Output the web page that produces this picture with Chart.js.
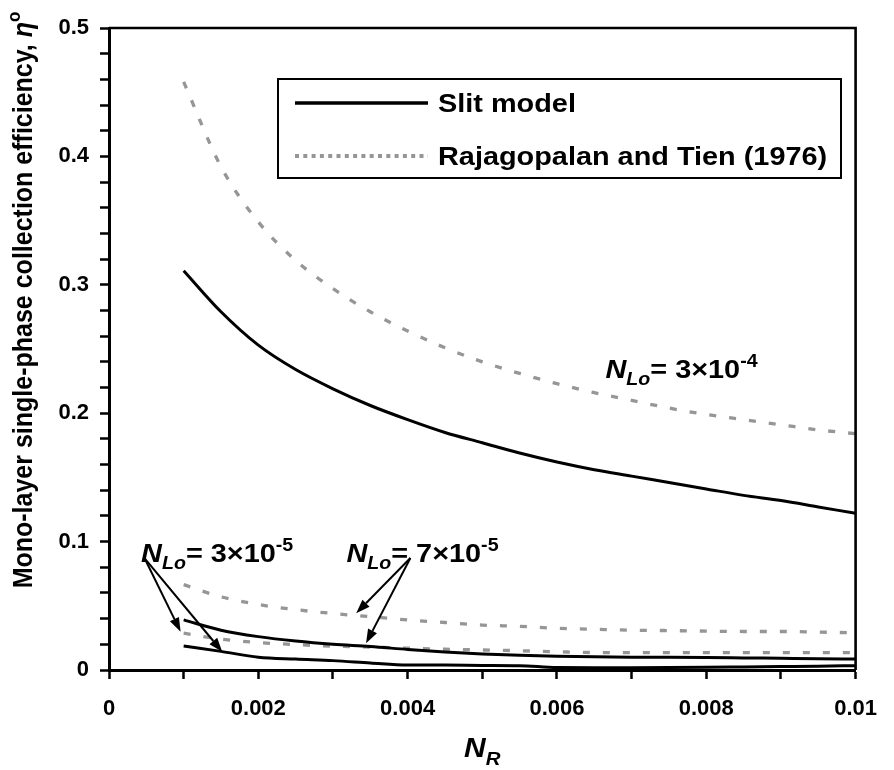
<!DOCTYPE html>
<html>
<head>
<meta charset="utf-8">
<title>Mono-layer collection efficiency</title>
<script src="https://cdn.jsdelivr.net/npm/chart.js@4.4.1/dist/chart.umd.min.js"></script>
<style>
  html, body { margin: 0; padding: 0; background: #fff; }
  #wrap { width: 894px; height: 770px; }
</style>
</head>
<body>
<div id="wrap"><canvas id="etaChart" width="894" height="770"></canvas></div>
<script>
// N_R values shared by every curve
const nR = [0.001, 0.0015, 0.002, 0.0025, 0.003, 0.0035, 0.004, 0.0045, 0.005, 0.0055,
            0.006, 0.0065, 0.007, 0.0075, 0.008, 0.0085, 0.009, 0.0095, 0.01];

// N_Lo = 3e-4
const slit3e4 = [0.311, 0.279, 0.253, 0.234, 0.219, 0.206, 0.195, 0.185, 0.177, 0.169,
                 0.162, 0.156, 0.151, 0.146, 0.141, 0.136, 0.132, 0.127, 0.122];
const rt3e4 = [0.458, 0.392, 0.349, 0.319, 0.297, 0.279, 0.264, 0.251, 0.240, 0.231,
               0.223, 0.216, 0.210, 0.204, 0.199, 0.195, 0.191, 0.187, 0.184];

// N_Lo = 7e-5
const slit7e5 = [0.039, 0.031, 0.026, 0.0225, 0.020, 0.0183, 0.016, 0.014, 0.0125, 0.0115,
                 0.0108, 0.0103, 0.0100, 0.0099, 0.0097, 0.0094, 0.0091, 0.0088, 0.0086];
const rt7e5 = [0.0665, 0.057, 0.051, 0.047, 0.044, 0.0415, 0.039, 0.037, 0.035, 0.034,
               0.0325, 0.0317, 0.031, 0.0307, 0.0303, 0.030, 0.030, 0.0295, 0.029];

// N_Lo = 3e-5
const slit3e5 = [0.0187, 0.0145, 0.0100, 0.0085, 0.0073, 0.0055, 0.0039, 0.0038, 0.0036, 0.0034,
                 0.0019, 0.0018, 0.0018, 0.0019, 0.0021, 0.0024, 0.0027, 0.0030, 0.0034];
const rt3e5 = [0.0287, 0.024, 0.0214, 0.0198, 0.0186, 0.0178, 0.017, 0.0162, 0.0156, 0.015,
               0.0142, 0.0136, 0.0135, 0.0135, 0.0135, 0.0135, 0.0135, 0.0135, 0.0135];

const legendLabels = ['Slit model', 'Rajagopalan and Tien (1976)'];

const FAMILY = '"Liberation Sans", Arial, sans-serif';
const GREY = '#969696';
const WIDEN = 1.11; // text in this figure runs a little wide

function font(size, italic) {
    return (italic ? 'italic ' : '') + 'bold ' + size + 'px ' + FAMILY;
}

function toPoints(ys) {
    return nR.map((x, i) => ({ x: x, y: ys[i] }));
}

function slitSet(ys) {
    return {
        label: legendLabels[0],
        data: toPoints(ys),
        borderColor: '#000',
        borderWidth: 3,
        pointRadius: 0,
        cubicInterpolationMode: 'monotone',
        fill: false
    };
}

function rtSet(ys) {
    return {
        label: legendLabels[1],
        data: toPoints(ys),
        borderColor: GREY,
        borderWidth: 3.3,
        borderDash: [7, 13],
        pointRadius: 0,
        cubicInterpolationMode: 'monotone',
        fill: false
    };
}

// text made of pieces: plain, italic, subscript, superscript
function richWidth(ctx, parts, size) {
    let w = 0;
    parts.forEach(p => {
        const s = p.shift ? size * 0.68 : size;
        ctx.font = font(s, p.italic);
        w += ctx.measureText(p.t).width;
    });
    return w;
}

function drawRich(ctx, parts, x, y, size, align, k) {
    k = k || 1;
    let start = x;
    if (align === 'center') start -= richWidth(ctx, parts, size) * k / 2;
    ctx.save();
    ctx.translate(start, y);
    ctx.scale(k, 1);
    ctx.textBaseline = 'alphabetic';
    ctx.textAlign = 'left';
    let cx = 0;
    parts.forEach(p => {
        const s = p.shift ? size * 0.68 : size;
        let dy = 0;
        if (p.shift === 'sub') dy = size * 0.28;
        if (p.shift === 'sup') dy = -size * 0.42;
        ctx.font = font(s, p.italic);
        ctx.fillText(p.t, cx, dy);
        cx += ctx.measureText(p.t).width;
    });
    ctx.restore();
}

function arrow(ctx, x0, y0, x1, y1) {
    const ang = Math.atan2(y1 - y0, x1 - x0);
    const len = 14, half = 5;
    const bx = x1 - len * Math.cos(ang), by = y1 - len * Math.sin(ang);
    ctx.beginPath();
    ctx.moveTo(x0, y0);
    ctx.lineTo(bx, by);
    ctx.stroke();
    ctx.beginPath();
    ctx.moveTo(x1, y1);
    ctx.lineTo(bx + half * Math.sin(ang), by - half * Math.cos(ang));
    ctx.lineTo(bx - half * Math.sin(ang), by + half * Math.cos(ang));
    ctx.closePath();
    ctx.fill();
}

function nLoLabel(exp, mant) {
    return [
        { t: 'N', italic: true },
        { t: 'Lo', italic: true, shift: 'sub' },
        { t: '= ' + mant + '\u00d710' },
        { t: exp, shift: 'sup' }
    ];
}

// labels and arrows, placed in data units
const notes = [
    { x: 0.00665, y: 0.2274, parts: nLoLabel('-4', '3') },
    { x: 0.00043, y: 0.0841, parts: nLoLabel('-5', '3') },
    { x: 0.00318, y: 0.0841, parts: nLoLabel('-5', '7') }
];
const arrows = [
    { from: [0.000475, 0.0872], to: [0.000959, 0.0298] },
    { from: [0.000475, 0.0872], to: [0.001517, 0.0142] },
    { from: [0.004037, 0.0872], to: [0.003311, 0.0442] },
    { from: [0.004037, 0.0872], to: [0.003443, 0.0208] }
];

const extras = {
    id: 'extras',
    afterDraw(chart) {
        const ctx = chart.ctx;
        const a = chart.chartArea;
        const sx = chart.scales.x, sy = chart.scales.y;
        ctx.save();

        // top and right edges of the plot frame
        ctx.strokeStyle = '#000';
        ctx.lineWidth = 2.6;
        ctx.beginPath();
        ctx.moveTo(a.left, a.top);
        ctx.lineTo(a.right, a.top);
        ctx.lineTo(a.right, a.bottom);
        ctx.stroke();

        // legend box
        const lx = a.left + 169, ly = a.top + 51, lw = 563, lh = 99;
        ctx.fillStyle = '#fff';
        ctx.fillRect(lx, ly, lw, lh);
        ctx.lineWidth = 2;
        ctx.strokeRect(lx, ly, lw, lh);
        const rows = [ly + 24, ly + 77];
        [chart.data.datasets[0], chart.data.datasets[1]].forEach((ds, i) => {
            ctx.strokeStyle = ds.borderColor;
            ctx.lineWidth = i === 0 ? 3.5 : 4;
            ctx.setLineDash(i === 0 ? [] : [4, 4.3]);
            ctx.beginPath();
            ctx.moveTo(lx + 17, rows[i]);
            ctx.lineTo(lx + 150, rows[i]);
            ctx.stroke();
            ctx.setLineDash([]);
            ctx.fillStyle = '#000';
            drawRich(ctx, [{ t: ds.label }], lx + 160, rows[i] + 9, 26, 'left', WIDEN);
        });

        // N_Lo labels and arrows
        ctx.fillStyle = '#000';
        ctx.strokeStyle = '#000';
        notes.forEach(n => {
            drawRich(ctx, n.parts, sx.getPixelForValue(n.x), sy.getPixelForValue(n.y), 26, 'left', WIDEN);
        });
        ctx.lineWidth = 2;
        arrows.forEach(r => {
            arrow(ctx,
                sx.getPixelForValue(r.from[0]), sy.getPixelForValue(r.from[1]),
                sx.getPixelForValue(r.to[0]), sy.getPixelForValue(r.to[1]));
        });

        // axis titles
        drawRich(ctx, [{ t: 'N', italic: true }, { t: 'R', italic: true, shift: 'sub' }],
            (a.left + a.right) / 2, 757, 27, 'center', WIDEN);

        ctx.translate(23, 300);
        ctx.rotate(-Math.PI / 2);
        ctx.scale(1, WIDEN);
        drawRich(ctx, [
            { t: 'Mono-layer single-phase collection efficiency, ' },
            { t: '\u03b7', italic: true },
            { t: 'o', shift: 'sup' }
        ], 0, 8, 25, 'center');

        ctx.restore();
    }
};

const ctx = document.getElementById('etaChart').getContext('2d');
const etaChart = new Chart(ctx, {
    type: 'line',
    data: {
        datasets: [
            slitSet(slit3e4), rtSet(rt3e4),
            slitSet(slit7e5), rtSet(rt7e5),
            slitSet(slit3e5), rtSet(rt3e5)
        ]
    },
    options: {
        responsive: false,
        animation: false,
        devicePixelRatio: 1,
        layout: { padding: { top: 28, right: 27, left: 0, bottom: 0 } },
        plugins: {
            legend: { display: false },
            tooltip: { enabled: false }
        },
        scales: {
            x: {
                type: 'linear',
                min: 0,
                max: 0.01,
                afterFit: s => { s.height = 100; },
                border: { display: true, color: '#000', width: 3 },
                grid: { drawOnChartArea: false, drawTicks: true, tickLength: 9, tickColor: '#000', tickWidth: 2.5 },
                ticks: {
                    stepSize: 0.001,
                    autoSkip: false,
                    maxRotation: 0,
                    padding: 17,
                    color: '#000',
                    font: { family: FAMILY, weight: 'bold', size: 22 },
                    callback: v => {
                        const k = Math.round(v * 1000);
                        return k % 2 ? '' : String(k / 1000);
                    }
                }
            },
            y: {
                type: 'linear',
                min: 0,
                max: 0.5,
                afterFit: s => { s.width = 109; },
                border: { display: true, color: '#000', width: 3 },
                grid: { drawOnChartArea: false, drawTicks: true, tickLength: 9, tickColor: '#000', tickWidth: 2.5 },
                ticks: {
                    stepSize: 0.02,
                    autoSkip: false,
                    padding: 11,
                    color: '#000',
                    font: { family: FAMILY, weight: 'bold', size: 22 },
                    callback: v => {
                        const k = Math.round(v * 50);
                        return k % 5 ? '' : String(k / 50);
                    }
                }
            }
        }
    },
    plugins: [extras]
});
</script>
</body>
</html>
